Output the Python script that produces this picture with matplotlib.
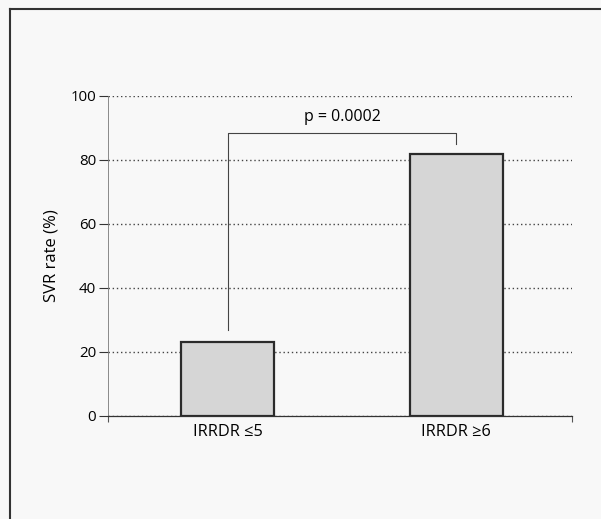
import matplotlib.pyplot as plt
from matplotlib.lines import Line2D

# SVR rate by IRRDR group
groups = ['IRRDR \u22645', 'IRRDR \u22656']
svr_rate = [23, 82]
p_label = 'p = 0.0002'

plt.rcParams['font.family'] = ['Open Sans', 'DejaVu Sans']

fig = plt.figure(figsize=(6.01, 5.19), dpi=100, facecolor='#f8f8f8')
ax = fig.add_axes([0.1797, 0.1985, 0.772, 0.6166])
ax.set_facecolor('#f8f8f8')

x = range(len(groups))
ax.bar(x, svr_rate, width=0.407, color='#d6d6d6', edgecolor='#2b2b2b',
       linewidth=1.6, zorder=3)

ax.set_xlim(-0.524, 1.506)
ax.set_ylim(0, 100)
ax.set_yticks([0, 20, 40, 60, 80, 100])
ax.set_xticks(list(x))
ax.set_xticklabels(groups, fontsize=11.8)
ax.tick_params(axis='x', length=0, pad=6)
ax.tick_params(axis='y', length=6.5, width=0.8, labelsize=10.8, pad=2,
               color='#333333')
# little end ticks on the x axis
ax.set_xticks([-0.524, 1.506], minor=True)
ax.tick_params(axis='x', which='minor', length=4, width=0.8, color='#555555')

ax.yaxis.grid(True, linestyle=(0, (1, 2)), color='#444444', linewidth=1)
ax.set_axisbelow(True)

for s in ['top', 'right']:
    ax.spines[s].set_visible(False)
ax.spines['left'].set_linewidth(0.6)
ax.spines['left'].set_color('#777777')
ax.spines['bottom'].set_linewidth(0.9)
ax.spines['bottom'].set_color('#333333')

ax.set_ylabel('SVR rate (%)', fontsize=12, labelpad=8)

# significance bracket between the two groups
ax.plot([0, 0, 1, 1], [27, 88.4, 88.4, 85], color='#444444', linewidth=0.8,
        zorder=4)
ax.text(0.5, 93.5, p_label, ha='center', va='center', fontsize=11.5)

# page frame
fig.add_artist(Line2D([0.0166, 1.0], [0.9836, 0.9836], color='#333333',
                      linewidth=1.5, transform=fig.transFigure))
fig.add_artist(Line2D([0.0166, 0.0166], [0.0, 0.9836], color='#333333',
                      linewidth=1.5, transform=fig.transFigure))

fig.savefig('out.png', dpi=100, facecolor=fig.get_facecolor())
